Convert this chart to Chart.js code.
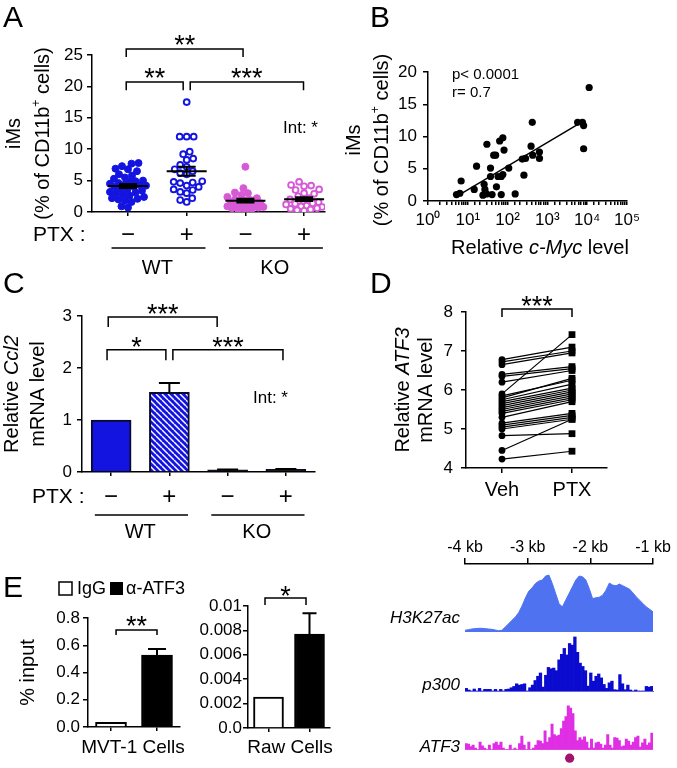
<!DOCTYPE html>
<html><head><meta charset="utf-8">
<script src="https://cdn.jsdelivr.net/npm/chart.js@4.4.1/dist/chart.umd.min.js"></script>
<style>
html,body{margin:0;padding:0;background:#fff;}
#fig{position:relative;width:677px;height:768px;overflow:hidden;background:#fff;}
#fig canvas{position:absolute;}
</style></head><body>
<div id="fig">
<canvas id="cA" width="340" height="282" style="left:0;top:0"></canvas>
<canvas id="cB" width="337" height="262" style="left:340px;top:0"></canvas>
<canvas id="cC" width="340" height="278" style="left:0;top:262px"></canvas>
<canvas id="cD" width="337" height="278" style="left:340px;top:262px"></canvas>
<canvas id="cE1" width="200" height="228" style="left:0;top:540px"></canvas>
<canvas id="cE2" width="150" height="228" style="left:190px;top:540px"></canvas>
<canvas id="cG1" width="337" height="105" style="left:340px;top:530px"></canvas>
<canvas id="cG2" width="337" height="60" style="left:340px;top:634px"></canvas>
<canvas id="cG3" width="337" height="71" style="left:340px;top:697px"></canvas>
</div>
<script>
// ---------------- DATA ----------------
// Panel A: iMs (% of CD11b+ cells)
const aCats = ['WT −', 'WT +', 'KO −', 'KO +'];
const aWTveh = [7.8, 7.7, 7.3, 6.9, 6.8, 6.5, 6.0, 5.8, 5.5, 5.3, 5.0, 4.9, 4.8, 4.6, 4.5, 4.4, 4.3, 4.2, 4.1, 4.0, 3.8, 3.6, 3.4, 3.2, 3.1, 3.0, 2.8, 2.6, 2.4, 2.2, 2.1, 2.0, 1.8, 1.6, 0.9, 0.7];
const aWTptx = [17.5, 12.0, 12.0, 12.0, 9.6, 9.2, 8.5, 8.3, 7.5, 7.2, 6.8, 6.5, 6.2, 6.0, 4.9, 4.8, 4.7, 4.6, 4.2, 4.0, 3.6, 3.5, 3.2, 3.0, 2.2, 1.9, 1.6];
const aKOveh = [7.2, 3.8, 3.1, 3.0, 2.7, 2.4, 2.2, 2.0, 1.9, 1.8, 1.6, 1.5, 1.4, 1.3, 1.2, 1.1, 1.0, 0.9, 0.8, 0.7, 0.6, 0.5, 0.4, 0.3];
const aKOptx = [4.8, 4.3, 4.2, 4.1, 3.6, 3.5, 3.0, 2.9, 2.5, 2.2, 2.0, 1.8, 1.6, 1.4, 1.3, 1.2, 1.0, 0.9, 0.8, 0.6, 0.5, 0.4, 0.3, 0.2];
const ptxSigns = ['−', '+', '−', '+'];
const genoNames = ['WT', 'KO'];
// Panel B: iMs vs relative c-Myc level
const bMyc = [5.2, 6.3, 6.8, 14.5, 16.6, 25.7, 26.9, 24.0, 29.5, 30.2, 37.2, 37.2, 40.7, 44.7, 50.1, 52.5, 57.5, 63.1, 69.2, 69.2, 75.9, 81.3, 75.9, 107, 155, 234, 257, 282, 389, 417, 427, 631, 631, 5750, 7590, 8130, 8130, 11200];
const bIMs = [1.0, 1.2, 3.1, 1.8, 5.4, 2.6, 1.8, 0.9, 1.1, 8.8, 5.1, 3.8, 1.0, 7.1, 7.1, 2.2, 3.8, 9.3, 3.8, 1.0, 9.8, 7.9, 4.1, 5.1, 1.1, 6.5, 4.0, 6.6, 8.5, 12.2, 7.1, 7.6, 6.6, 12.2, 12.2, 8.1, 11.7, 17.6];
const bFitX = [5, 8000];
const bFitY = [0.65, 12.4];
// Panel C: relative Ccl2 mRNA
const cCats = ['WT −', 'WT +', 'KO −', 'KO +'];
const cMean = [1.0, 1.53, 0.04, 0.05];
const cErr = [0, 0.18, 0.01, 0.01];
// Panel D: relative ATF3 mRNA (paired)
const dCats = ['Veh', 'PTX'];
const dVeh = [6.78, 6.72, 6.65, 6.40, 6.35, 6.20, 5.90, 5.85, 5.80, 5.75, 5.70, 5.65, 5.60, 5.55, 5.50, 5.45, 5.40, 5.30, 5.15, 5.10, 5.05, 5.00, 4.83, 4.45, 4.23];
const dPTX = [7.10, 7.00, 6.95, 6.60, 6.55, 6.50, 7.42, 6.25, 6.30, 6.15, 6.05, 6.00, 5.95, 5.90, 5.85, 5.80, 5.75, 5.70, 5.40, 5.35, 5.30, 5.25, 4.88, 5.25, 4.43];
// Panel E: ChIP % input
const eSeries = ['IgG', 'α-ATF3'];
const eMVT = [0.035, 0.528];
const eMVTerr = [0, 0.044];
const eRaw = [0.00254, 0.0077];
const eRawErr = [0, 0.0017];
// Genome tracks (-4 kb .. -1 kb)
const trackTicks = [-4, -3, -2, -1];
const h3k27ac = [5,7,9,10,11,11,10,9,8,6, 4,5,15,25,35,45,58,78,102,122, 132,145,152,155,167,170,145,115,85,75, 95,115,135,155,167,165,155,130,100,102, 104,110,125,146,140,138,143,138,133,128, 117,105,95,85,75,68,60];
const p300 = [8,3,0,6,0,8,0,5,5,5, 0,5,0,5,0,5,6,10,14,22, 18,20,22,0,10,18,32,45,55,12, 48,72,68,70,62,95,112,130,110,145, 140,165,118,85,75,62,15,55,30,45, 52,40,20,8,25,30,4,3,50,22, 4,18,3,0,3,0,0,0,14,12, 14];
const atf3 = [20,18,10,15,5,0,25,12,5,0, 15,0,20,25,15,25,5,0,0,15, 0,5,0,20,45,15,0,25,0,5, 15,30,28,20,62,25,40,85,50,45, 48,70,95,110,145,138,120,62,30,40, 32,42,25,5,35,5,22,25,18,5, 15,50,15,5,40,38,30,10,12,35, 28,15,25,40,45,8,22,35,15,22, 55];
const atf3Site = -2.33;

// ---------------- STYLE ----------------
const FF = '"Liberation Sans", Arial, Helvetica, sans-serif';
const BLUE = '#1414e0', MAG = '#d65ad6';
const H3C = '#4f72f0', P3C = '#0b0bd0', ATC = '#df2ee3', DOTC = '#a4126e';
Chart.defaults.font.family = FF;
Chart.defaults.font.size = 17;
Chart.defaults.color = '#000';
Chart.defaults.animation = false;
Chart.defaults.responsive = false;
Chart.defaults.maintainAspectRatio = false;
Chart.defaults.devicePixelRatio = 1;
Chart.defaults.events = [];
Chart.defaults.plugins.legend.display = false;
Chart.defaults.plugins.tooltip.enabled = false;

function F(size, style) { return (style ? style + ' ' : '') + size + 'px ' + FF; }
function text(ctx, s, x, y, size, align, baseline, style, color) {
  ctx.save(); ctx.font = F(size, style); ctx.fillStyle = color || '#000';
  ctx.textAlign = align || 'center'; ctx.textBaseline = baseline || 'middle';
  ctx.fillText(s, x, y); ctx.restore();
}
function rich(ctx, parts, x, y, size, rot) {
  ctx.save(); ctx.translate(x, y); if (rot) ctx.rotate(rot);
  ctx.textAlign = 'left'; ctx.textBaseline = 'middle'; ctx.fillStyle = '#000';
  const m = parts.map(p => { const s = p.sup ? size * 0.62 : size; ctx.font = F(s, p.it ? 'italic' : ''); return {s, w: ctx.measureText(p.t).width}; });
  let cx = -m.reduce((a, b) => a + b.w, 0) / 2;
  parts.forEach((p, i) => { ctx.font = F(m[i].s, p.it ? 'italic' : ''); ctx.fillText(p.t, cx, p.sup ? -size * 0.33 : 0); cx += m[i].w; });
  ctx.restore();
}
function yTitle(ctx, lines, xs, y, size) { lines.forEach((parts, i) => rich(ctx, parts, xs[i], y, size, -Math.PI / 2)); }
function letter(ctx, s, x, y) { text(ctx, s, x, y, 30, 'left', 'alphabetic'); }
function brackets(chart, list) {
  const {ctx, scales: {x, y}} = chart;
  ctx.save(); ctx.strokeStyle = '#000'; ctx.lineWidth = 1.5;
  list.forEach(b => {
    const x1 = x.getPixelForValue(b.from), x2 = x.getPixelForValue(b.to);
    const yt = y.getPixelForValue(b.y), yl = y.getPixelForValue(b.leg);
    ctx.beginPath(); ctx.moveTo(x1, yl); ctx.lineTo(x1, yt); ctx.lineTo(x2, yt); ctx.lineTo(x2, yl); ctx.stroke();
    text(ctx, b.text, (x1 + x2) / 2, yt + (b.dy == null ? 5 : b.dy), 27, 'center', 'alphabetic');
  });
  ctx.restore();
}
function errBars(chart, means, errs, cap) {
  const {ctx, scales: {x, y}} = chart;
  ctx.save(); ctx.strokeStyle = '#000'; ctx.lineWidth = 2;
  means.forEach((m, i) => {
    if (!errs[i]) return;
    const px = x.getPixelForValue(i), y0 = y.getPixelForValue(m), y1 = y.getPixelForValue(m + errs[i]);
    ctx.beginPath(); ctx.moveTo(px, y0); ctx.lineTo(px, y1); ctx.moveTo(px - cap / 2, y1); ctx.lineTo(px + cap / 2, y1); ctx.stroke();
  });
  ctx.restore();
}
function ptxRow(chart, cfg) {
  const {ctx, scales: {x}, chartArea: ca} = chart;
  text(ctx, 'PTX :', cfg.labelX, ca.bottom + cfg.dy1, 21, 'left');
  ptxSigns.forEach((s, i) => text(ctx, s, x.getPixelForValue(i), ca.bottom + cfg.dy1, 24));
  ctx.save(); ctx.strokeStyle = '#000'; ctx.lineWidth = 1.5;
  genoNames.forEach((g, gi) => {
    const x1 = x.getPixelForValue(gi * 2 - 0.28), x2 = x.getPixelForValue(gi * 2 + 1.32);
    ctx.beginPath(); ctx.moveTo(x1, ca.bottom + cfg.dy2); ctx.lineTo(x2, ca.bottom + cfg.dy2); ctx.stroke();
    text(ctx, g, x.getPixelForValue(gi * 2 + 0.5), ca.bottom + cfg.dy3, 20);
  });
  ctx.restore();
}
const GRID = (tl) => ({display: true, drawOnChartArea: false, drawTicks: true, tickLength: tl, color: '#000', lineWidth: 1.5});
const BORDER = {display: true, color: '#000', width: 1.5};
function hatch(color) {
  const c = document.createElement('canvas'); c.width = 6; c.height = 6;
  const g = c.getContext('2d'); g.fillStyle = color; g.fillRect(0, 0, 6, 6);
  g.strokeStyle = '#fff'; g.lineWidth = 1.4;
  for (const o of [-6, 0, 6]) { g.beginPath(); g.moveTo(o, 0); g.lineTo(o + 6, 6); g.stroke(); }
  return g.createPattern(c, 'repeat');
}
const CD11B = [[{t: 'iMs'}], [{t: '(% of CD11b'}, {t: '+', sup: true}, {t: ' cells)'}]];

// ---------------- PANEL A ----------------
const aGroups = [aWTveh, aWTptx, aKOveh, aKOptx];
const aColors = [BLUE, BLUE, MAG, MAG];
const aFilled = [true, false, true, false];
const chartA = new Chart(document.getElementById('cA'), {
  type: 'scatter',
  data: {datasets: aGroups.map((vals, gi) => ({
    label: aCats[gi], data: vals.map(v => ({x: gi, y: v})),
    pointRadius: aFilled[gi] ? 3.5 : 2.9,
    pointBackgroundColor: aFilled[gi] ? aColors[gi] : '#fff',
    pointBorderColor: aColors[gi], pointBorderWidth: aFilled[gi] ? 1 : 1.9
  }))},
  options: {
    layout: {padding: {left: 0, right: 15, top: 55, bottom: 0}},
    scales: {
      x: {type: 'linear', min: -0.613, max: 3.356, afterBuildTicks: s => { s.ticks = aCats.map((c, i) => ({value: i})); },
          ticks: {display: false}, grid: GRID(4), border: BORDER, afterFit: s => { s.height = 70; }},
      y: {min: 0, max: 25, ticks: {stepSize: 5, padding: 4}, grid: GRID(5), border: BORDER, afterFit: s => { s.width = 92; }}
    }
  },
  plugins: [{
    id: 'pA',
    afterDatasetsDraw(chart) {
      const {ctx, scales: {x, y}} = chart;
      ctx.save(); ctx.strokeStyle = '#000'; ctx.lineWidth = 2;
      aGroups.forEach((vals, gi) => {
        const n = vals.length, m = vals.reduce((a, b) => a + b, 0) / n;
        const sd = Math.sqrt(vals.reduce((a, b) => a + (b - m) * (b - m), 0) / (n - 1)), se = sd / Math.sqrt(n);
        const cx = x.getPixelForValue(gi), pm = y.getPixelForValue(m), p1 = y.getPixelForValue(m - se), p2 = y.getPixelForValue(m + se);
        ctx.beginPath(); ctx.moveTo(cx - 20, pm); ctx.lineTo(cx + 20, pm);
        ctx.moveTo(cx, p1); ctx.lineTo(cx, p2);
        ctx.moveTo(cx - 9, p1); ctx.lineTo(cx + 9, p1); ctx.moveTo(cx - 9, p2); ctx.lineTo(cx + 9, p2); ctx.stroke();
      });
      ctx.restore();
    },
    afterDraw(chart) {
      const {ctx, chartArea: ca} = chart;
      letter(ctx, 'A', 3, 27);
      yTitle(ctx, CD11B, [14, 43], (ca.top + ca.bottom) / 2, 20);
      brackets(chart, [
        {from: -0.03, to: 1.96, y: 25.95, leg: 24.7, text: '**'},
        {from: -0.03, to: 0.94, y: 20.7, leg: 19.4, text: '**'},
        {from: 1.06, to: 2.99, y: 20.7, leg: 19.4, text: '***'}
      ]);
      text(ctx, 'Int: *', 283, chart.scales.y.getPixelForValue(13.4), 17, 'left');
      ptxRow(chart, {labelX: 33, dy1: 23, dy2: 36, dy3: 56});
    }
  }]
});
// beeswarm placement of each group's points (pixel collision test through the chart's scales)
(function swarm(chart) {
  const xs = chart.scales.x, ys = chart.scales.y;
  const ppu = xs.getPixelForValue(1) - xs.getPixelForValue(0);
  const d = 6.6, maxW = 18;
  aGroups.forEach((vals, gi) => {
    const order = vals.map((v, i) => i).sort((a, b) => vals[a] - vals[b]);
    const placed = [], pts = new Array(vals.length);
    for (const i of order) {
      const py = ys.getPixelForValue(vals[i]);
      let off = null, bestC = 0, bestD = -1;
      for (let k = 0; k < 200; k++) {
        const c = (k % 2 === 0 ? 1 : -1) * Math.ceil(k / 2) * 0.5;
        if (Math.abs(c) > maxW) break;
        let md = Infinity;
        for (const p of placed) md = Math.min(md, Math.hypot(p.x - c, p.y - py));
        if (md >= d) { off = c; break; }
        if (md > bestD) { bestD = md; bestC = c; }
      }
      if (off === null) off = bestC;
      placed.push({x: off, y: py});
      pts[i] = {x: gi + off / ppu, y: vals[i]};
    }
    chart.data.datasets[gi].data = pts;
  });
  chart.update('none');
})(chartA);

// ---------------- PANEL B ----------------
const SUP = ['⁰', '¹', '²', '³', '⁴', '⁵'];
new Chart(document.getElementById('cB'), {
  type: 'scatter',
  data: {datasets: [
    {data: bMyc.map((v, i) => ({x: v, y: bIMs[i]})), pointRadius: 3.6, pointBackgroundColor: '#000', pointBorderColor: '#000', pointBorderWidth: 0},
    {type: 'line', data: bFitX.map((v, i) => ({x: v, y: bFitY[i]})), borderColor: '#000', borderWidth: 1.5, pointRadius: 0, showLine: true}
  ]},
  options: {
    layout: {padding: {left: 0, right: 50, top: 72, bottom: 0}},
    scales: {
      x: {type: 'logarithmic', min: 1, max: 100000,
          ticks: {autoSkip: false, maxRotation: 0, padding: 5, callback: v => { const l = Math.log10(v); return Math.abs(l - Math.round(l)) < 1e-9 ? '10' + SUP[Math.round(l)] : ''; }},
          grid: GRID(4), border: BORDER, afterFit: s => { s.height = 61; }},
      y: {min: 0, max: 20, ticks: {stepSize: 5, padding: 6}, grid: GRID(5), border: BORDER, afterFit: s => { s.width = 88; }}
    }
  },
  plugins: [{
    id: 'pB',
    afterDraw(chart) {
      const {ctx} = chart;
      letter(ctx, 'B', 30, 27);
      yTitle(ctx, CD11B, [14, 42], 140, 20);
      rich(ctx, [{t: 'Relative '}, {t: 'c-Myc', it: true}, {t: ' level'}], 200, 248, 20);
      text(ctx, 'p< 0.0001', 112, 75, 15, 'left');
      text(ctx, 'r= 0.7', 112, 93, 15, 'left');
    }
  }]
});

// ---------------- PANEL C ----------------
new Chart(document.getElementById('cC'), {
  type: 'bar',
  data: {labels: cCats, datasets: [{label: 'Ccl2', data: cMean,
    backgroundColor: [BLUE, hatch(BLUE), '#1a1a1a', '#1a1a1a'], borderColor: '#0a0a30', borderWidth: 2, barThickness: 40}]},
  options: {
    layout: {padding: {left: 0, right: 25, top: 54, bottom: 0}},
    scales: {
      x: {offset: true, ticks: {display: false}, grid: Object.assign(GRID(4), {offset: false}), border: BORDER, afterFit: s => { s.height = 68; }},
      y: {min: 0, max: 3, ticks: {stepSize: 1, padding: 5}, grid: GRID(5), border: BORDER, afterFit: s => { s.width = 82; }}
    }
  },
  plugins: [{
    id: 'pC',
    afterDatasetsDraw(chart) { errBars(chart, cMean, cErr, 21); },
    afterDraw(chart) {
      const {ctx, chartArea: ca} = chart;
      letter(ctx, 'C', 3, 31);
      yTitle(ctx, [[{t: 'Relative '}, {t: 'Ccl2', it: true}], [{t: 'mRNA level'}]], [12, 38], (ca.top + ca.bottom) / 2, 20);
      brackets(chart, [
        {from: -0.05, to: 1.82, y: 2.98, leg: 2.79, text: '***', dy: 6},
        {from: -0.07, to: 0.94, y: 2.35, leg: 2.15, text: '*', dy: 6},
        {from: 1.06, to: 2.95, y: 2.35, leg: 2.15, text: '***', dy: 6}
      ]);
      text(ctx, 'Int: *', 253, chart.scales.y.getPixelForValue(1.42), 17, 'left');
      ptxRow(chart, {labelX: 32, dy1: 25, dy2: 43, dy3: 60});
    }
  }]
});

// ---------------- PANEL D ----------------
new Chart(document.getElementById('cD'), {
  type: 'line',
  data: {datasets: dVeh.map((v, i) => ({
    data: [{x: 0, y: v}, {x: 1, y: dPTX[i]}], borderColor: '#000', borderWidth: 1.2,
    pointStyle: ['circle', 'rect'], pointRadius: [3.4, 4.8], pointBackgroundColor: '#000', pointBorderColor: '#000', pointBorderWidth: 0
  }))},
  options: {
    layout: {padding: {left: 0, right: 70, top: 50, bottom: 0}},
    scales: {
      x: {type: 'linear', min: -0.514, max: 1.5, afterBuildTicks: s => { s.ticks = dCats.map((c, i) => ({value: i})); },
          ticks: {font: {size: 20}, padding: 5, callback: v => dCats[v] || ''}, grid: GRID(5), border: BORDER, afterFit: s => { s.height = 72; }},
      y: {min: 4, max: 8, ticks: {stepSize: 1, padding: 8}, grid: GRID(5), border: BORDER, afterFit: s => { s.width = 126; }}
    }
  },
  plugins: [{
    id: 'pD',
    afterDraw(chart) {
      const {ctx, chartArea: ca} = chart;
      letter(ctx, 'D', 30, 31);
      yTitle(ctx, [[{t: 'Relative '}, {t: 'ATF3', it: true}], [{t: 'mRNA level'}]], [63, 86], (ca.top + ca.bottom) / 2, 20);
      brackets(chart, [{from: 0, to: 1, y: 8.08, leg: 7.87, text: '***', dy: 6}]);
    }
  }]
});

// ---------------- PANEL E ----------------
new Chart(document.getElementById('cE1'), {
  type: 'bar',
  data: {labels: eSeries, datasets: [{label: 'MVT-1 Cells', data: eMVT, backgroundColor: ['#fff', '#000'], borderColor: '#000', borderWidth: 2, barThickness: 31}]},
  options: {
    layout: {padding: {left: 0, right: 20, top: 78, bottom: 0}},
    scales: {
      x: {offset: true, ticks: {display: false}, grid: Object.assign(GRID(4), {offset: false}), border: BORDER, afterFit: s => { s.height = 41; }},
      y: {min: 0, max: 0.8, ticks: {stepSize: 0.2, padding: 3, callback: v => v.toFixed(1)}, grid: GRID(5), border: BORDER, afterFit: s => { s.width = 88; }}
    }
  },
  plugins: [{
    id: 'pE1',
    afterDatasetsDraw(chart) { errBars(chart, eMVT, eMVTerr, 18); },
    afterDraw(chart) {
      const {ctx, chartArea: ca} = chart;
      letter(ctx, 'E', 3, 57);
      ctx.save(); ctx.lineWidth = 1.5; ctx.strokeStyle = '#000';
      ctx.fillStyle = '#fff'; ctx.fillRect(59, 42, 13, 13); ctx.strokeRect(59, 42, 13, 13);
      ctx.fillStyle = '#000'; ctx.fillRect(110, 42, 13, 13);
      ctx.restore();
      text(ctx, eSeries[0], 77, 49, 18, 'left');
      text(ctx, eSeries[1], 126, 49, 18, 'left');
      yTitle(ctx, [[{t: '% input'}]], [28], (ca.top + ca.bottom) / 2, 20);
      text(ctx, 'MVT-1 Cells', 133, 208, 19);
      brackets(chart, [{from: 0.11, to: 1.0, y: 0.712, leg: 0.675, text: '**', dy: 5}]);
    }
  }]
});
new Chart(document.getElementById('cE2'), {
  type: 'bar',
  data: {labels: eSeries, datasets: [{label: 'Raw Cells', data: eRaw, backgroundColor: ['#fff', '#000'], borderColor: '#000', borderWidth: 2, barThickness: 30}]},
  options: {
    layout: {padding: {left: 0, right: 10, top: 66, bottom: 0}},
    scales: {
      x: {offset: true, ticks: {display: false}, grid: Object.assign(GRID(4), {offset: false}), border: BORDER, afterFit: s => { s.height = 40; }},
      y: {min: 0, max: 0.01, ticks: {stepSize: 0.002, padding: 1, callback: v => v === 0 ? '0.0' : (Math.abs(v - 0.01) < 1e-9 ? '0.01' : v.toFixed(3))},
          grid: GRID(5), border: BORDER, afterFit: s => { s.width = 58; }}
    }
  },
  plugins: [{
    id: 'pE2',
    afterDatasetsDraw(chart) { errBars(chart, eRaw, eRawErr, 14); },
    afterDraw(chart) {
      const {ctx} = chart;
      text(ctx, 'Raw Cells', 100, 208, 19);
      brackets(chart, [{from: -0.085, to: 0.915, y: 0.01066, leg: 0.01008, text: '*', dy: 7}]);
    }
  }]
});

// ---------------- GENOME TRACKS ----------------
const T0 = trackTicks[0], T1 = trackTicks[trackTicks.length - 1];
function trackLabel(name, yPos) {
  return {id: 'tl' + name, afterDraw(chart) { text(chart.ctx, name, chart.chartArea.left - 5, yPos, 17, 'right', 'middle', 'italic'); }};
}
new Chart(document.getElementById('cG1'), {
  type: 'line',
  data: {datasets: [{label: 'H3K27ac', data: h3k27ac.map((v, i) => ({x: T0 + i * (T1 - T0) / (h3k27ac.length - 1), y: v})),
    fill: 'origin', backgroundColor: H3C, borderColor: H3C, borderWidth: 1, pointRadius: 0, tension: 0}]},
  options: {
    layout: {padding: {left: 125, right: 24, top: 0, bottom: 3}},
    scales: {
      x: {type: 'linear', position: 'top', min: T0, max: T1, afterBuildTicks: s => { s.ticks = trackTicks.map(v => ({value: v})); },
          ticks: {font: {size: 16}, padding: 1, maxRotation: 0, callback: v => v + ' kb'}, grid: GRID(6), border: BORDER, afterFit: s => { s.height = 34; }},
      y: {display: false, min: 0, max: 203}
    }
  },
  plugins: [trackLabel('H3K27ac', 88)]
});
new Chart(document.getElementById('cG2'), {
  type: 'bar',
  data: {datasets: [{label: 'p300', data: p300.map((v, i) => ({x: T0 + (i + 0.5) * (T1 - T0) / p300.length, y: v})),
    backgroundColor: P3C, borderWidth: 0, barPercentage: 1, categoryPercentage: 1}]},
  options: {
    layout: {padding: {left: 125, right: 24, top: 0, bottom: 3}},
    scales: {
      x: {type: 'linear', offset: false, min: T0, max: T1, ticks: {display: false},
          grid: {display: true, drawOnChartArea: false, drawTicks: false}, border: {display: true, color: '#6a6ad8', width: 1}, afterFit: s => { s.height = 0; }},
      y: {display: false, min: 0, max: 174}
    }
  },
  plugins: [trackLabel('p300', 51)]
});
new Chart(document.getElementById('cG3'), {
  type: 'bar',
  data: {datasets: [
    {label: 'ATF3', data: atf3.map((v, i) => ({x: T0 + (i + 0.5) * (T1 - T0) / atf3.length, y: v})),
     backgroundColor: ATC, borderWidth: 0, barPercentage: 1, categoryPercentage: 1},
    {type: 'line', label: 'ATF3 site', data: [{x: atf3Site, y: -29}], showLine: false, pointRadius: 4.6, pointBackgroundColor: DOTC, pointBorderColor: DOTC, pointBorderWidth: 0}
  ]},
  options: {
    layout: {padding: {left: 125, right: 24, top: 0, bottom: 0}},
    scales: {
      x: {type: 'linear', offset: false, min: T0, max: T1, display: false},
      y: {display: false, min: -46.4, max: 159.5}
    }
  },
  plugins: [trackLabel('ATF3', 50), {
    id: 'atfBase',
    beforeDatasetsDraw(chart) {
      const {ctx, chartArea: ca, scales: {y}} = chart;
      const py = Math.round(y.getPixelForValue(0)) + 0.5;
      ctx.save(); ctx.strokeStyle = '#e89ae8'; ctx.lineWidth = 1;
      ctx.beginPath(); ctx.moveTo(ca.left, py); ctx.lineTo(ca.right, py); ctx.stroke(); ctx.restore();
    }
  }]
});
</script>
</body></html>
